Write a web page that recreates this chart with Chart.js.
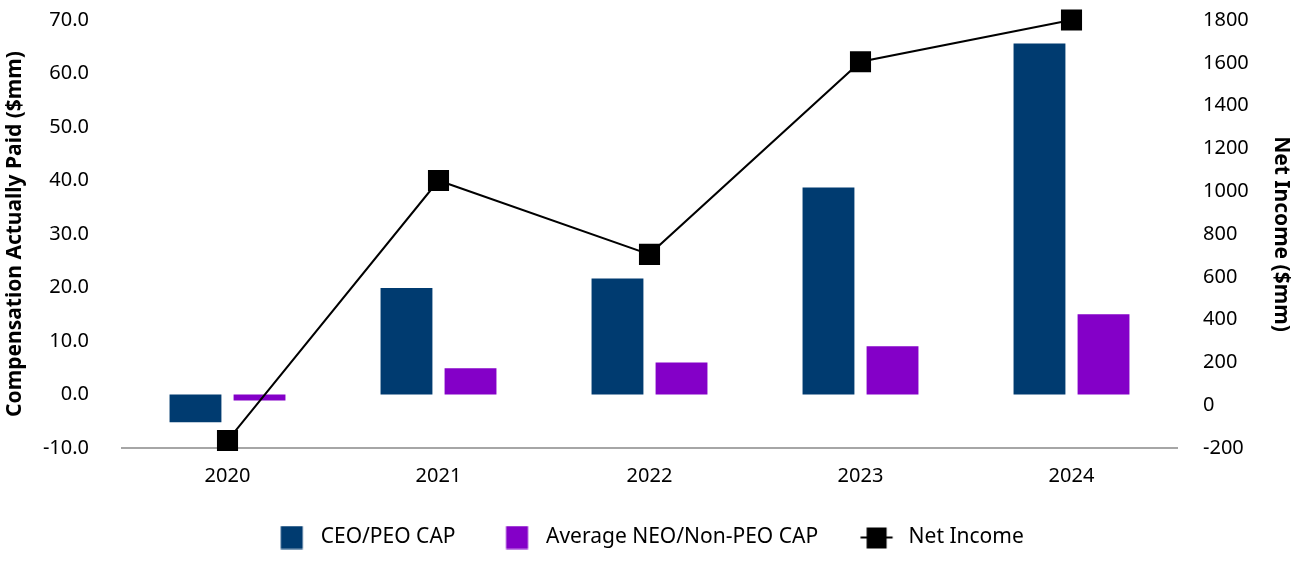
<!DOCTYPE html>
<html>
<head>
<meta charset="utf-8">
<script src="https://cdn.jsdelivr.net/npm/chart.js"></script>
<style>
  html, body { margin: 0; padding: 0; background: #fff; }
  #wrap { width: 1296px; height: 566px; }
</style>
</head>
<body>
<div id="wrap"><canvas id="cap-chart"></canvas></div>
<script>
// data
const years = ['2020', '2021', '2022', '2023', '2024'];
const ceoCap = [-5.2, 19.9, 21.7, 38.7, 65.6];
const neoCap = [-1.1, 4.9, 6.0, 9.0, 15.0];
const netIncome = [-165, 1050, 705, 1605, 1800];

const leftTicks = [-10, 0, 10, 20, 30, 40, 50, 60, 70];
const rightTicks = [-200, 0, 200, 400, 600, 800, 1000, 1200, 1400, 1600, 1800];

const navy = '#003b70';
const purple = '#8400c8';
const font = '"Noto Sans", sans-serif';

// legend swatches drawn on small canvases (38 wide so the text gap matches)
function swatch(color) {
  const c = document.createElement('canvas');
  c.width = 38; c.height = 24;
  const g = c.getContext('2d');
  g.fillStyle = color;
  g.fillRect(8.5, 0.5, 22, 23);
  return c;
}
function lineSwatch() {
  const c = document.createElement('canvas');
  c.width = 38; c.height = 24;
  const g = c.getContext('2d');
  g.strokeStyle = '#000';
  g.lineWidth = 2;
  g.beginPath(); g.moveTo(0.5, 12); g.lineTo(32.5, 12); g.stroke();
  g.fillStyle = '#000';
  g.fillRect(6.5, 2, 20, 21);
  return c;
}
const swatches = [swatch(navy), swatch(purple), lineSwatch()];

// fixed axis widths, and no extra top/bottom room for the tick labels
function fitY(width) {
  return (axis) => {
    axis.width = width;
    axis.paddingTop = 0;
    axis.paddingBottom = 0;
  };
}

const ctx = document.getElementById('cap-chart');

new Chart(ctx, {
    data: {
        labels: years,
        datasets: [{
            type: 'bar',
            label: 'CEO/PEO CAP',
            data: ceoCap,
            backgroundColor: navy,
            yAxisID: 'y',
            categoryPercentage: 0.607,
            barPercentage: 0.81,
            order: 2
        },
        {
            type: 'bar',
            label: 'Average NEO/Non-PEO CAP',
            data: neoCap,
            backgroundColor: purple,
            yAxisID: 'y',
            categoryPercentage: 0.607,
            barPercentage: 0.81,
            order: 2
        },
        {
            type: 'line',
            label: 'Net Income',
            data: netIncome,
            borderColor: '#000',
            backgroundColor: '#000',
            borderWidth: 2,
            pointStyle: 'rect',
            pointRadius: 13.5,
            pointHoverRadius: 13.5,
            tension: 0,
            clip: false,
            yAxisID: 'y1',
            order: 1
        }]
    },
    options: {
        responsive: true,
        maintainAspectRatio: false,
        animation: false,
        layout: { padding: { top: 20, left: 0, right: 0, bottom: 8 } },
        plugins: {
            tooltip: { enabled: false },
            legend: {
                position: 'bottom',
                labels: {
                    usePointStyle: true,
                    pointStyleWidth: 38,
                    boxHeight: 24,
                    padding: 42,
                    color: '#000',
                    font: { family: font, size: 21 },
                    generateLabels: (chart) => chart.data.datasets.map((ds, i) => ({
                        text: ds.label,
                        pointStyle: swatches[i],
                        fillStyle: 'transparent',
                        strokeStyle: 'transparent',
                        lineWidth: 0,
                        fontColor: '#000',
                        datasetIndex: i
                    }))
                }
            }
        },
        scales: {
            x: {
                afterFit: (axis) => { axis.height = axis.height - 19; },
                grid: { display: false, drawTicks: false },
                border: { display: true, color: '#a6a6a6', width: 2 },
                ticks: { color: '#000', padding: 16, font: { family: font, size: 20 } }
            },
            y: {
                position: 'left',
                min: -10,
                max: 70,
                afterBuildTicks: (axis) => { axis.ticks = leftTicks.map(v => ({ value: v })); },
                afterFit: fitY(122),
                grid: { display: false, drawTicks: false },
                border: { display: false },
                ticks: {
                    color: '#000',
                    padding: 33,
                    font: { family: font, size: 20 },
                    callback: (v) => v.toFixed(1)
                },
                title: {
                    display: true,
                    text: 'Compensation Actually Paid ($mm)',
                    color: '#000',
                    padding: { top: 2, bottom: 2 },
                    font: { family: font, size: 21, weight: 'bold' }
                }
            },
            y1: {
                position: 'right',
                min: -200,
                max: 1800,
                afterBuildTicks: (axis) => { axis.ticks = rightTicks.map(v => ({ value: v })); },
                afterFit: fitY(119),
                grid: { display: false, drawTicks: false },
                border: { display: false },
                ticks: {
                    color: '#000',
                    padding: 26,
                    font: { family: font, size: 20 },
                    callback: (v) => String(v)
                },
                title: {
                    display: true,
                    text: 'Net Income ($mm)',
                    color: '#000',
                    padding: { top: 2, bottom: 2 },
                    font: { family: font, size: 21, weight: 'bold' }
                }
            }
        }
    }
});
</script>
</body>
</html>
